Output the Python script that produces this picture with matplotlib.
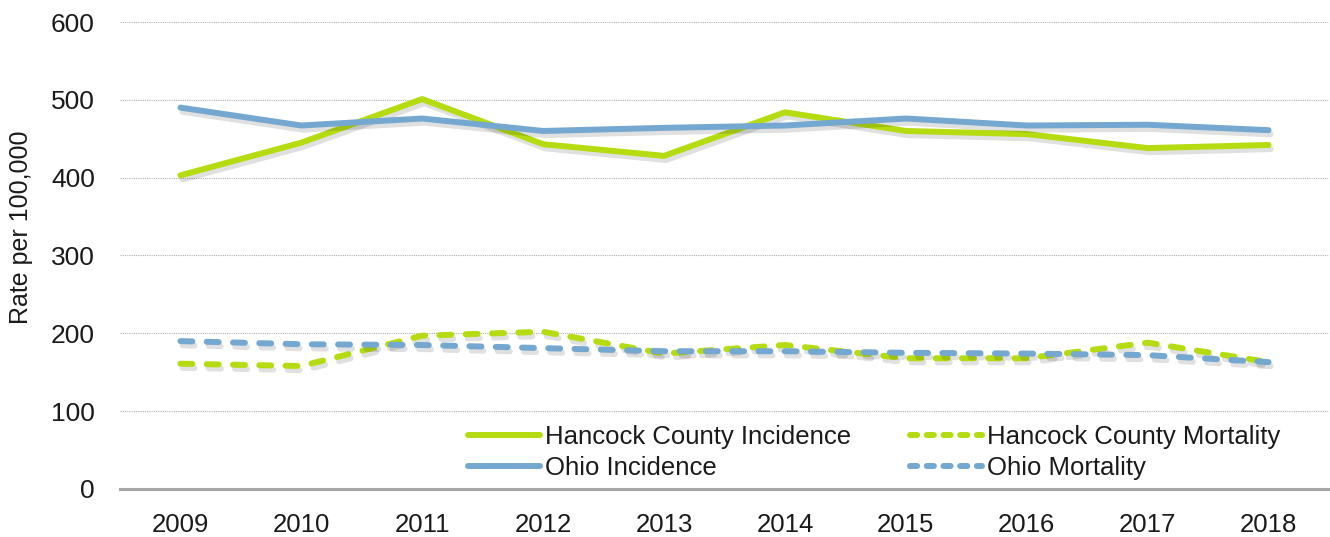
import matplotlib
matplotlib.use("Agg")
import matplotlib.pyplot as plt
import matplotlib.patheffects as pe
from matplotlib.lines import Line2D

years = ["2009", "2010", "2011", "2012", "2013", "2014", "2015", "2016", "2017", "2018"]
hancock_incidence = [403, 445, 501, 443, 428, 484, 460, 456, 438, 442]
ohio_incidence = [490, 467, 476, 460, 464, 467, 476, 467, 468, 461]
hancock_mortality = [161, 158, 197, 202, 174, 185, 168, 168, 188, 163]
ohio_mortality = [190, 186, 185, 181, 177, 177, 175, 174, 172, 163]
y_ticks = [0, 100, 200, 300, 400, 500, 600]

FONT = "Liberation Sans"
GREEN = "#B5DC10"
BLUE = "#74A8D0"
TXT = "#1a1a1a"

fig = plt.figure(figsize=(13.3, 5.37), dpi=100)
ax = fig.add_axes([120 / 1330, 48 / 537, 1209 / 1330, 467 / 537])

x = list(range(len(years)))
shadow = [pe.SimpleLineShadow(offset=(1.5, -3), shadow_color="black", alpha=0.12), pe.Normal()]
DASH = (2, 2.4)

ax.plot(x, hancock_incidence, color=GREEN, lw=4.3, solid_capstyle="round",
        path_effects=shadow, zorder=3)
ax.plot(x, ohio_incidence, color=BLUE, lw=4.3, solid_capstyle="round",
        path_effects=shadow, zorder=3)
ax.plot(x, hancock_mortality, color=GREEN, lw=4.3, dashes=DASH, dash_capstyle="round",
        path_effects=shadow, zorder=3)
ax.plot(x, ohio_mortality, color=BLUE, lw=4.3, dashes=DASH, dash_capstyle="round",
        path_effects=shadow, zorder=3)

ax.set_xlim(-0.5, len(years) - 0.5)
ax.set_ylim(0, 600)
ax.set_yticks(y_ticks)
ax.set_xticks(x)
ax.set_xticklabels(years)
ax.tick_params(length=0, colors=TXT)
ax.tick_params(axis="y", pad=18, labelsize=19)
ax.tick_params(axis="x", pad=17, labelsize=18.5)
for lab in ax.get_xticklabels() + ax.get_yticklabels():
    lab.set_fontfamily(FONT)

ax.grid(axis="y", color="#B0B0B0", linestyle=(0, (1, 1)), linewidth=0.8)
ax.set_axisbelow(True)
for s in ["top", "right", "left"]:
    ax.spines[s].set_visible(False)
ax.spines["bottom"].set_color("#A6A6A6")
ax.spines["bottom"].set_linewidth(2.2)

ax.set_ylabel("Rate per 100,000", fontsize=18, fontfamily=FONT, color=TXT)
ax.yaxis.set_label_coords(-0.072, 0.561)

handles = [
    Line2D([], [], color=GREEN, lw=4.3, solid_capstyle="round"),
    Line2D([], [], color=BLUE, lw=4.3, solid_capstyle="round"),
    Line2D([], [], color=GREEN, lw=4.3, dashes=(1.2, 1.6), dash_capstyle="round"),
    Line2D([], [], color=BLUE, lw=4.3, dashes=(1.2, 1.6), dash_capstyle="round"),
]
labels = ["Hancock County Incidence", "Ohio Incidence",
          "Hancock County Mortality", "Ohio Mortality"]
leg = ax.legend(handles, labels, ncol=2,
                loc="upper left", bbox_to_anchor=(0.2875, 0.138), frameon=False,
                handlelength=2.8, handletextpad=0.2, columnspacing=2.3,
                labelspacing=0.3, borderaxespad=0, borderpad=0,
                prop={"family": FONT, "size": 18.5})
for t in leg.get_texts():
    t.set_color(TXT)

fig.savefig("out.png", dpi=100)
